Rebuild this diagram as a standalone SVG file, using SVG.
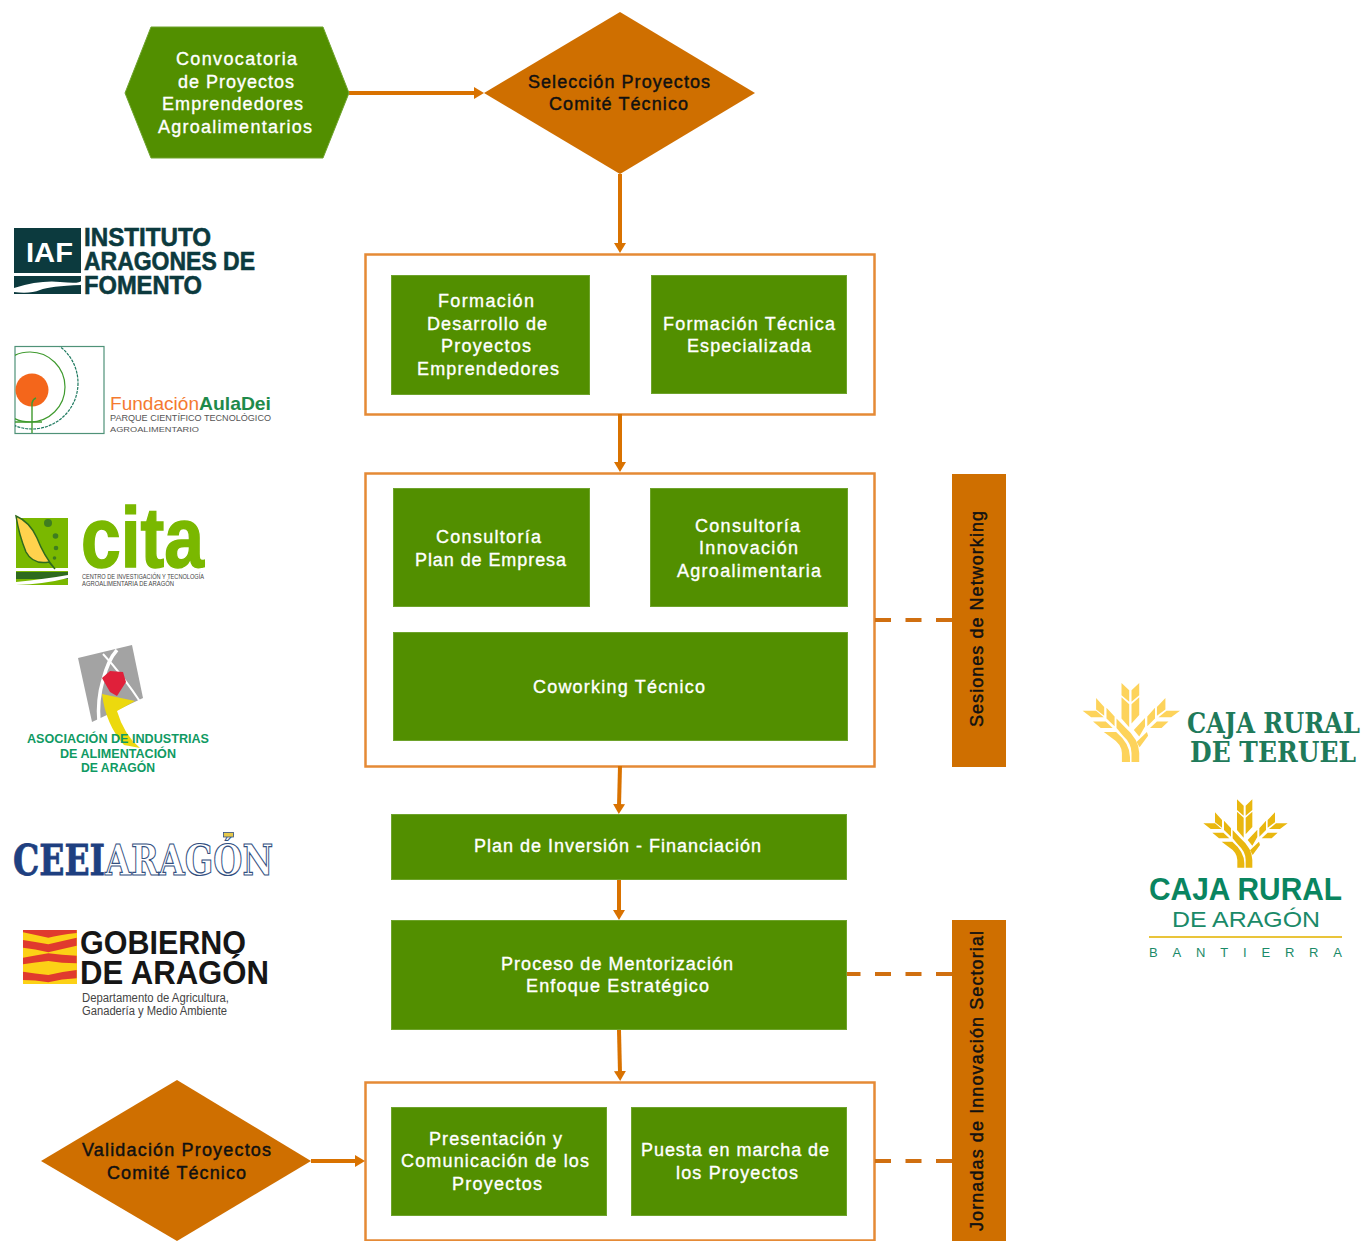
<svg xmlns="http://www.w3.org/2000/svg" width="1369" height="1241" viewBox="0 0 1369 1241">
<style>
text{font-family:"Liberation Sans",Arial,sans-serif}
.g{fill:#528f00;stroke:#6ea32c;stroke-width:1}
.o{fill:#cf6f00}
.c{fill:none;stroke:#d97200;stroke-width:4}
.d{fill:none;stroke:#d06f10;stroke-width:4;stroke-dasharray:16 14.500}
.b{fill:#fff;stroke:#e58a36;stroke-width:2.500}
.w{fill:#fff;stroke:#fff;stroke-width:.35;font-size:18px}
.k{fill:#111;stroke:#111;stroke-width:.45;font-size:18px}
.iaf{fill:#0c3a3e;stroke:#0c3a3e;stroke-width:.6;font-size:26px;font-weight:bold}
.crt{fill:#1f7a5a;font-family:"DejaVu Serif",serif;font-size:27px;font-weight:bold}
.aia{fill:#0f9a63;font-size:13px;font-weight:bold}
.gob{fill:#161616;font-size:33px;font-weight:bold}
.gs{fill:#444;font-size:12px}
.ce{fill:#1e3f80;stroke:#1e3f80;stroke-width:.8;font-family:"DejaVu Serif",serif;font-size:43px;font-weight:bold}
.ar{fill:#fff;stroke:#33507f;stroke-width:1.200;font-family:"DejaVu Serif",serif;font-size:43px;font-weight:bold}
</style>
<defs>
<marker id="a" markerUnits="userSpaceOnUse" markerWidth="11" markerHeight="13" refX="2" refY="6.500" orient="auto"><path d="M0 0.500L10 6.500L0 12.500Z" fill="#d97200"/></marker>
<clipPath id="sq"><rect x="15" y="347" width="89" height="86"/></clipPath>
<g id="wheat">
<path d="M126 13L146 32V62L126 45ZM126 50L146 68V128L126 105ZM60 52L81 75V98L60 82ZM87 77L108 100V125L87 105ZM25 85H60L80 102H47ZM52 113H85L103 130H72Z"/>
<path d="M172 13L152 32V62L172 45ZM172 50L152 68V118L172 96ZM240 52L218 75V98L240 82ZM213 77L193 100V125L213 105ZM278 85H243L222 102H255ZM248 113H218L200 130H230ZM187 104L158 135L172 152L187 126ZM192 140L165 166L173 180L195 150Z"/>
<path d="M80 140H112Q148 170 148 205V218H127V195Q127 172 100 155Z"/>
<path d="M113 105L135 128Q172 160 172 195V218H152V195Q152 170 130 150L113 130Z"/>
</g>
</defs>

<g id="bloques">
<rect class="b" x="365.500" y="254.500" width="509" height="160"/>
<rect class="b" x="365.500" y="473.500" width="509" height="293"/>
<rect class="b" x="365.500" y="1082.500" width="509" height="158"/>
</g>

<g id="connectors">
<path class="c" d="M349 93H476" marker-end="url(#a)"/>
<path class="c" d="M620 174V245" marker-end="url(#a)"/>
<path class="c" d="M620 414V464" marker-end="url(#a)"/>
<path class="c" d="M620 766L619 806" marker-end="url(#a)"/>
<path class="c" d="M619 880V912" marker-end="url(#a)"/>
<path class="c" d="M619 1030L620 1073" marker-end="url(#a)"/>
<path class="c" d="M311 1161H357" marker-end="url(#a)"/>
<path class="d" d="M952 620H874"/>
<path class="d" d="M952 974H847"/>
<path class="d" d="M952 1161H874"/>
</g>

<g id="convocatoria">
<path class="g" d="M125 93L151 27H323L349 93L323 158H151Z"/>
<text class="w" x="176" y="65" textLength="121">Convocatoria</text>
<text class="w" x="178" y="88" textLength="116">de Proyectos</text>
<text class="w" x="162" y="110" textLength="141">Emprendedores</text>
<text class="w" x="158" y="133" textLength="154">Agroalimentarios</text>
</g>
<g id="seleccion">
<path class="o" d="M484 93L620 12L755 93L620 174Z"/>
<text class="k" x="528" y="88" textLength="182">Selección Proyectos</text>
<text class="k" x="549" y="110" textLength="139">Comité Técnico</text>
</g>

<g id="formacion-proyectos"><rect class="g" x="391.500" y="275.500" width="198" height="119"/>
<text class="w" x="438" y="307" textLength="96">Formación</text>
<text class="w" x="427" y="330" textLength="120">Desarrollo de</text>
<text class="w" x="441" y="352" textLength="90">Proyectos</text>
<text class="w" x="417" y="375" textLength="142">Emprendedores</text></g>
<g id="formacion-tecnica"><rect class="g" x="651.500" y="275.500" width="195" height="118"/>
<text class="w" x="663" y="330" textLength="172">Formación Técnica</text>
<text class="w" x="687" y="352" textLength="124">Especializada</text></g>

<g id="consultoria-plan"><rect class="g" x="393.500" y="488.500" width="196" height="118"/>
<text class="w" x="436" y="543" textLength="105">Consultoría</text>
<text class="w" x="415" y="566" textLength="151">Plan de Empresa</text></g>
<g id="consultoria-innovacion"><rect class="g" x="650.500" y="488.500" width="197" height="118"/>
<text class="w" x="695" y="532" textLength="105">Consultoría</text>
<text class="w" x="699" y="554" textLength="99">Innovación</text>
<text class="w" x="677" y="577" textLength="144">Agroalimentaria</text></g>
<g id="coworking"><rect class="g" x="393.500" y="632.500" width="454" height="108"/>
<text class="w" x="533" y="693" textLength="172">Coworking Técnico</text></g>

<g id="plan-inversion"><rect class="g" x="391.500" y="814.500" width="455" height="65"/>
<text class="w" x="474" y="852" textLength="287">Plan de Inversión - Financiación</text></g>
<g id="mentorizacion"><rect class="g" x="391.500" y="920.500" width="455" height="109"/>
<text class="w" x="501" y="970" textLength="232">Proceso de Mentorización</text>
<text class="w" x="526" y="992" textLength="183">Enfoque Estratégico</text></g>

<g id="validacion">
<path class="o" d="M41 1161L177 1080L311 1161L177 1241Z"/>
<text class="k" x="82" y="1156" textLength="189">Validación Proyectos</text>
<text class="k" x="107" y="1179" textLength="139">Comité Técnico</text>
</g>

<g id="presentacion"><rect class="g" x="391.500" y="1107.500" width="215" height="108"/>
<text class="w" x="429" y="1145" textLength="133">Presentación y</text>
<text class="w" x="401" y="1167" textLength="188">Comunicación de los</text>
<text class="w" x="452" y="1190" textLength="90">Proyectos</text></g>
<g id="puesta"><rect class="g" x="631.500" y="1107.500" width="215" height="108"/>
<text class="w" x="641" y="1156" textLength="188">Puesta en marcha de</text>
<text class="w" x="676" y="1179" textLength="122">los Proyectos</text></g>

<g id="sesiones"><rect class="o" x="952" y="474" width="54" height="293"/>
<text class="k" transform="translate(983,727) rotate(-90)" textLength="216">Sesiones de Networking</text></g>
<g id="jornadas"><rect class="o" x="952" y="920" width="54" height="321"/>
<text class="k" transform="translate(983,1231) rotate(-90)" textLength="300">Jornadas de Innovación Sectorial</text></g>

<g id="logo-iaf">
<rect x="14" y="228" width="67" height="45" fill="#0c3a3e"/>
<text x="26" y="262" fill="#fff" font-size="27" font-weight="bold" textLength="47" lengthAdjust="spacingAndGlyphs">IAF</text>
<rect x="14" y="276" width="67" height="18" fill="#0c3a3e"/>
<path d="M14 288Q40 280 60 282T81 281V285Q50 286 40 290T14 292Z" fill="#fff"/>
<text class="iaf" x="84" y="246" textLength="127" lengthAdjust="spacingAndGlyphs">INSTITUTO</text>
<text class="iaf" x="84" y="270" textLength="171" lengthAdjust="spacingAndGlyphs">ARAGONES DE</text>
<text class="iaf" x="84" y="294" textLength="118" lengthAdjust="spacingAndGlyphs">FOMENTO</text>
</g>

<g id="logo-auladei">
<rect x="15" y="346.500" width="89" height="87" fill="none" stroke="#4f9278" stroke-width="1.200"/>
<g clip-path="url(#sq)">
<circle cx="32" cy="390" r="16.500" fill="#f4661b"/>
<circle cx="30" cy="387" r="35" fill="none" stroke="#3f9a2e" stroke-width="1.200"/>
<circle cx="32" cy="383" r="46" fill="none" stroke="#1f7a60" stroke-width="1.200" stroke-dasharray="3 1"/>
<path d="M32 433V403Q33 399 36 398M15 422H42" fill="none" stroke="#3f9a2e" stroke-width="1.400"/>
</g>
<text x="110" y="410" fill="#f47a30" font-size="19" textLength="89" lengthAdjust="spacingAndGlyphs">Fundación</text>
<text x="199" y="410" fill="#1f8a4a" font-size="19" font-weight="bold" textLength="72" lengthAdjust="spacingAndGlyphs">AulaDei</text>
<text x="110" y="421" fill="#555" font-size="9" textLength="161" lengthAdjust="spacingAndGlyphs">PARQUE CIENTÍFICO TECNOLÓGICO</text>
<text x="110" y="432" fill="#555" font-size="8" textLength="89" lengthAdjust="spacingAndGlyphs">AGROALIMENTARIO</text>
</g>

<g id="logo-cita">
<rect x="16" y="518" width="52" height="50" fill="#7ab800"/>
<path d="M16 516Q30 522 37 538Q44 556 55 569L49 562Q33 565 26 552Q19 535 16 516Z" fill="#ffd24d" stroke="#2e6a1e" stroke-width="1.500"/>
<circle cx="48" cy="523" r="4" fill="#3f7d1f"/><circle cx="55.500" cy="536" r="2.800" fill="#3f7d1f"/><circle cx="56" cy="548" r="2.300" fill="#3f7d1f"/><circle cx="54.500" cy="558" r="1.800" fill="#3f7d1f"/>
<rect x="16" y="571" width="52" height="14" fill="#7ab800"/>
<rect x="16" y="572" width="52" height="7" fill="#2e6a1e"/>
<path d="M16 582Q45 579 68 575V578Q45 584 16 585Z" fill="#fff"/>
<text x="81" y="567" fill="#7ab800" stroke="#7ab800" stroke-width="1.500" font-size="86" font-weight="bold" textLength="123" lengthAdjust="spacingAndGlyphs">cita</text>
<text x="82" y="579" fill="#444" font-size="7" textLength="122" lengthAdjust="spacingAndGlyphs">CENTRO DE INVESTIGACIÓN Y TECNOLOGÍA</text>
<text x="82" y="586" fill="#444" font-size="6.500" textLength="92" lengthAdjust="spacingAndGlyphs">AGROALIMENTARIA DE ARAGÓN</text>
</g>

<g id="logo-aiaa">
<path d="M78 658L132 645L143 698L92 722Z" fill="#a3a3a3"/>
<path d="M103 654Q122 674 143 706" fill="none" stroke="#fff" stroke-width="2"/>
<path d="M117 650Q108 660 103 680Q97 700 99 722" fill="none" stroke="#fff" stroke-width="3.500"/>
<path d="M102 678L110 671L123 672L126 682L117 696L110 692Z" fill="#e0203a"/>
<path d="M102 694L135 701L117 711Q124 735 140 748L124 745Q106 725 102 694Z" fill="#ecd90e"/>
<text class="aia" x="27" y="743" textLength="182" lengthAdjust="spacingAndGlyphs">ASOCIACIÓN DE INDUSTRIAS</text>
<text class="aia" x="60" y="758" textLength="116" lengthAdjust="spacingAndGlyphs">DE ALIMENTACIÓN</text>
<text class="aia" x="81" y="772" textLength="74" lengthAdjust="spacingAndGlyphs">DE ARAGÓN</text>
</g>

<g id="logo-ceei">
<text class="ce" x="13" y="875" textLength="92" lengthAdjust="spacingAndGlyphs">CEEI</text>
<text class="ar" x="105" y="875" textLength="168" lengthAdjust="spacingAndGlyphs">ARAGÓN</text>
<rect x="223.500" y="832.500" width="10" height="4.500" fill="#e6c84a" stroke="#33507f" stroke-width=".8"/>
</g>

<g id="logo-gobierno">
<rect x="23" y="930" width="54" height="54" fill="#fcd116"/>
<g transform="translate(15,925) scale(.3333)" fill="#e03a2e">
<path d="M24 15H185V24Q130 30 100 38Q60 30 24 22Z"/>
<path d="M24 45Q60 50 100 58Q140 48 185 38V62Q140 72 100 82Q60 72 24 68Z"/>
<path d="M24 98Q60 92 100 85Q140 90 185 92V115Q140 115 100 108Q60 112 24 118Z"/>
<path d="M24 140Q60 145 100 150Q140 140 185 135V160Q140 162 100 172Q60 165 24 165Z"/>
</g>
<text class="gob" x="80" y="954" textLength="166" lengthAdjust="spacingAndGlyphs">GOBIERNO</text>
<text class="gob" x="80" y="984" textLength="189" lengthAdjust="spacingAndGlyphs">DE ARAGÓN</text>
<text class="gs" x="82" y="1002" textLength="147" lengthAdjust="spacingAndGlyphs">Departamento de Agricultura,</text>
<text class="gs" x="82" y="1015" textLength="145" lengthAdjust="spacingAndGlyphs">Ganadería y Medio Ambiente</text>
</g>

<g id="logo-caja-teruel">
<use href="#wheat" transform="translate(1073,678) scale(.385)" fill="#fdd35b"/>
<text class="crt" x="1187" y="733" textLength="173" lengthAdjust="spacingAndGlyphs">CAJA RURAL</text>
<text class="crt" x="1190" y="762" textLength="166" lengthAdjust="spacingAndGlyphs">DE TERUEL</text>
</g>

<g id="logo-caja-aragon">
<use href="#wheat" transform="translate(1195,795) scale(.3333)" fill="#e9b70f"/>
<text x="1149" y="900" fill="#0a8560" font-size="32" font-weight="bold" textLength="193" lengthAdjust="spacingAndGlyphs">CAJA RURAL</text>
<text x="1172" y="927" fill="#1a8a68" font-size="22" textLength="148" lengthAdjust="spacingAndGlyphs">DE ARAGÓN</text>
<rect x="1149" y="936" width="193" height="2" fill="#e9c43a"/>
<text x="1149" y="957" fill="#1a8a68" font-size="13" textLength="193">BANTIERRA</text>
</g>
</svg>
